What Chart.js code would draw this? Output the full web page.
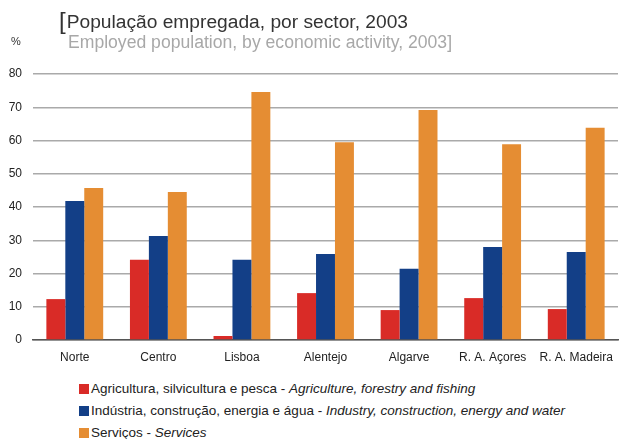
<!DOCTYPE html>
<html>
<head>
    <meta charset="utf-8" />
    <title>População empregada, por sector, 2003</title>
    <style>
        body { margin: 0; background: #fff; font-family: "Liberation Sans", Arial, sans-serif; }
        .wrap { position: relative; width: 619px; height: 439px; overflow: hidden; }
        .title { position: absolute; left: 59px; top: 6px; font-size: 19.2px; color: #333; white-space: nowrap; }
        .title .br { font-size: 24px; position: relative; top: 1px; margin-right: 1px; }
        .sub { position: absolute; left: 68px; top: 32px; font-size: 17.6px; color: #a8a8a8; white-space: nowrap; }
        .unit { position: absolute; left: 11px; top: 35px; font-size: 11px; color: #333; }
        .chart { position: absolute; left: 0; top: 0; width: 619px; height: 370px; }
        .legend { position: absolute; left: 79px; top: 380px; font-size: 13.5px; color: #222; }
        .legend div { height: 22px; line-height: 17px; white-space: nowrap; }
        .legend span.sw { display: inline-block; width: 10px; height: 10px; margin-right: 2px; vertical-align: -1px; }
    </style>
    <script src="https://cdn.jsdelivr.net/npm/chart.js"></script>
</head>
<body>
<div class="wrap">
    <div class="chart"><canvas id="chart"></canvas></div>
    <div class="title"><span class="br">[</span>População empregada, por sector, 2003</div>
    <div class="sub">Employed population, by economic activity, 2003]</div>
    <div class="unit">%</div>
    <div class="legend" id="legend"></div>
</div>
<script>
    const regions = ['Norte', 'Centro', 'Lisboa', 'Alentejo', 'Algarve', 'R. A. Açores', 'R. A. Madeira'];
    const agriculture = [12.3, 24.1, 1.2, 14.1, 9.0, 12.6, 9.3];
    const industry = [41.8, 31.3, 24.1, 25.9, 21.4, 28.0, 26.5];
    const services = [45.7, 44.5, 74.6, 59.5, 69.2, 58.9, 63.8];
    const yTicks = [0, 10, 20, 30, 40, 50, 60, 70, 80];

    const seriesPt = ['Agricultura, silvicultura e pesca', 'Indústria, construção, energia e água', 'Serviços'];
    const seriesEn = ['Agriculture, forestry and fishing', 'Industry, construction, energy and water', 'Services'];
    const colors = ['#d92b27', '#133f87', '#e58d33'];

    const values = [agriculture, industry, services];

    // legend with mixed italic text
    const legend = document.getElementById('legend');
    seriesPt.forEach((name, i) => {
        const row = document.createElement('div');
        row.innerHTML = `<span class="sw" style="background:${colors[i]}"></span>${name} - <i>${seriesEn[i]}</i>`;
        legend.appendChild(row);
    });

    new Chart(document.getElementById('chart').getContext('2d'), {
        type: 'bar',
        data: {
            labels: regions,
            datasets: values.map((v, i) => ({
                label: seriesPt[i],
                data: v,
                backgroundColor: colors[i],
                borderWidth: 0,
                barPercentage: 1,
                categoryPercentage: 0.68
            }))
        },
        options: {
            animation: false,
            responsive: true,
            maintainAspectRatio: false,
            layout: { padding: { top: 74, right: 1, left: 0, bottom: 0 } },
            scales: {
                x: {
                    grid: { display: false, drawTicks: false },
                    border: { color: '#555', width: 1.5 },
                    ticks: { color: '#222', font: { family: 'Liberation Sans', size: 12 }, padding: 10, maxRotation: 0, autoSkip: false },
                    afterFit: s => { s.height = 30; s.paddingLeft = 0; s.paddingRight = 0; }
                },
                y: {
                    min: 0,
                    max: 80,
                    afterBuildTicks: s => { s.ticks = yTicks.map(v => ({ value: v })); },
                    grid: { color: '#aaaaaa', lineWidth: 1.5, drawTicks: false },
                    border: { display: false },
                    ticks: { color: '#222', font: { family: 'Liberation Sans', size: 12 }, padding: 11 },
                    afterFit: s => { s.width = 33; s.paddingTop = 0; s.paddingBottom = 0; }
                }
            },
            plugins: {
                legend: { display: false },
                tooltip: { enabled: false }
            }
        }
    });
</script>
</body>
</html>
